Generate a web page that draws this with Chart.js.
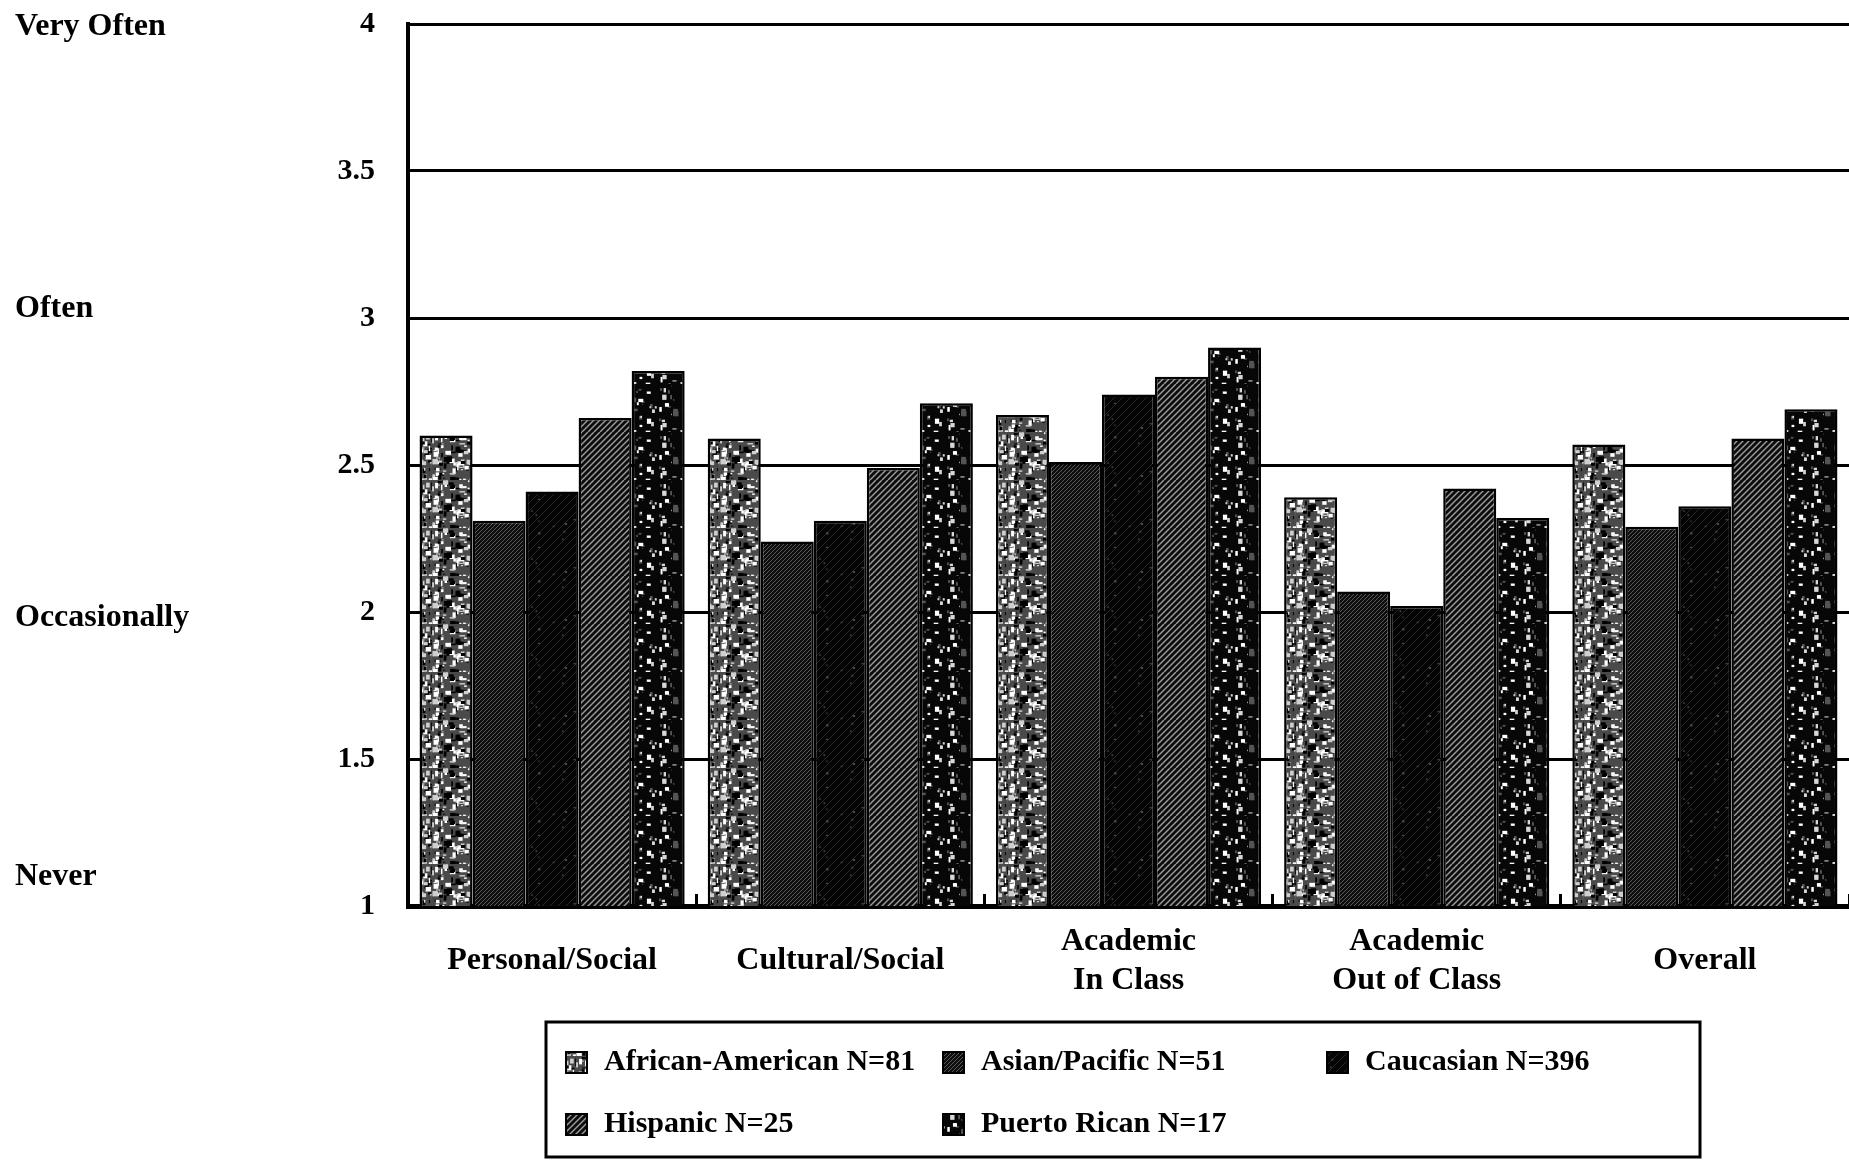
<!DOCTYPE html>
<html><head><meta charset="utf-8">
<script src="https://cdn.jsdelivr.net/npm/chart.js@4.4.1/dist/chart.umd.min.js"></script>
<style>html,body{margin:0;padding:0;background:#fff;}canvas{display:block;}</style>
</head><body>
<canvas id="c" width="1849" height="1167"></canvas>
<script>
// ---- data ----
const categories = ['Personal/Social', 'Cultural/Social', ['Academic', 'In Class'], ['Academic', 'Out of Class'], 'Overall'];
const seriesNames = ['African-American N=81', 'Asian/Pacific N=51', 'Caucasian N=396', 'Hispanic N=25', 'Puerto Rican N=17'];
const africanAmerican = [2.60, 2.59, 2.67, 2.39, 2.57];
const asianPacific    = [2.31, 2.24, 2.51, 2.07, 2.29];
const caucasian       = [2.41, 2.31, 2.74, 2.02, 2.36];
const hispanic        = [2.66, 2.49, 2.80, 2.42, 2.59];
const puertoRican     = [2.82, 2.71, 2.90, 2.32, 2.69];
const yTickLabels = ['1', '1.5', '2', '2.5', '3', '3.5', '4'];
const scaleWords = ['Never', 'Occasionally', 'Often', 'Very Often'];
const scaleWordValues = [1.10, 1.98, 3.03, 3.99];

// ---- textures ----
function rng(seed) {
  return function () {
    seed = (seed + 0x6D2B79F5) | 0;
    let t = Math.imul(seed ^ (seed >>> 15), 1 | seed);
    t = (t + Math.imul(t ^ (t >>> 7), 61 | t)) ^ t;
    return ((t ^ (t >>> 14)) >>> 0) / 4294967296;
  };
}
function hatch(g, s, sp, color, w) {
  g.strokeStyle = color; g.lineWidth = w;
  for (let k = -s; k <= 2 * s; k += sp) {
    g.beginPath(); g.moveTo(k, s); g.lineTo(k + s, 0); g.stroke();
  }
}
function speckle(g, s, r, n, colors, maxSz) {
  for (let i = 0; i < n; i++) {
    g.fillStyle = colors[Math.floor(r() * colors.length)];
    const x = r() * s, y = r() * s, w = 1 + r() * maxSz, h = 1 + r() * maxSz;
    g.fillRect(x, y, w, h);
  }
}
function makePattern(kind) {
  const s = 48;
  const cv = document.createElement('canvas'); cv.width = s; cv.height = s;
  const g = cv.getContext('2d');
  if (kind === 0) {
    const r = rng(11);
    g.fillStyle = '#4a4a4a'; g.fillRect(0, 0, s, s);
    speckle(g, s, r, 120, ['#ffffff', '#000000', '#d0d0d0', '#000000'], 5);
  } else if (kind === 1) {
    g.fillStyle = '#0e0e0e'; g.fillRect(0, 0, s, s);
    hatch(g, s, 4, '#5a5a5a', 1);
  } else if (kind === 2) {
    const r = rng(23);
    g.fillStyle = '#050505'; g.fillRect(0, 0, s, s);
    hatch(g, s, 8, '#262626', 1);
    speckle(g, s, r, 10, ['#4a4a4a'], 1.5);
  } else if (kind === 3) {
    g.fillStyle = '#0c0c0c'; g.fillRect(0, 0, s, s);
    hatch(g, s, 6, '#9c9c9c', 1.4);
  } else {
    const r = rng(37);
    g.fillStyle = '#070707'; g.fillRect(0, 0, s, s);
    speckle(g, s, r, 40, ['#ffffff', '#d8d8d8', '#555555'], 4.5);
  }
  return g.createPattern(cv, 'repeat');
}

const seriesValues = [africanAmerican, asianPacific, caucasian, hispanic, puertoRican];
const FONT = '"Liberation Serif", "Times New Roman", serif';
Chart.defaults.font.family = FONT;
Chart.defaults.font.weight = 'bold';
Chart.defaults.color = '#000';

const boxLegend = {
  id: 'boxLegend',
  afterDraw(chart) {
    const c = chart.ctx;
    c.save();
    c.strokeStyle = '#000';
    c.lineWidth = 3;
    c.strokeRect(546, 1022, 1154, 135);
    const colX = [566, 943, 1327], rowY = [1062, 1124];
    c.font = 'bold 30px ' + FONT;
    c.textBaseline = 'middle';
    c.textAlign = 'left';
    chart.data.datasets.forEach((ds, i) => {
      const x = colX[i % 3], y = rowY[Math.floor(i / 3)];
      c.fillStyle = ds.backgroundColor;
      c.fillRect(x, y - 10, 21, 21);
      c.lineWidth = 2;
      c.strokeRect(x, y - 10, 21, 21);
      c.fillStyle = '#000';
      c.fillText(ds.label, x + 38, y);
    });
    c.restore();
  }
};

new Chart(document.getElementById('c'), {
  type: 'bar',
  data: {
    labels: categories,
    datasets: seriesNames.map((name, i) => ({
      label: name,
      data: seriesValues[i],
      backgroundColor: makePattern(i),
      borderColor: '#000',
      borderWidth: 2.5,
      borderSkipped: false,
      categoryPercentage: 0.92,
      barPercentage: 1.0
    }))
  },
  options: {
    responsive: false,
    animation: false,
    devicePixelRatio: 1,
    layout: { padding: { left: 15, right: 0, top: 24, bottom: 151 } },
    plugins: { legend: { display: false }, tooltip: { enabled: false } },
    scales: {
      x: {
        offset: true,
        grid: { display: true, offset: true, drawOnChartArea: false, drawTicks: true, tickLength: -12, lineWidth: 3, color: '#000' },
        border: { display: true, width: 5, color: '#000' },
        ticks: { font: { size: 32, weight: 'bold' }, color: '#000', padding: 48, maxRotation: 0, autoSkip: false, crossAlign: 'center' },
        afterFit: s => { s.height = 110; }
      },
      y: {
        position: 'left', weight: 1,
        min: 1, max: 4,
        ticks: { stepSize: 0.5, callback: (v, i) => yTickLabels[i], padding: 33, font: { size: 30, weight: 'bold' }, color: '#000' },
        grid: { color: '#000', lineWidth: 3, drawTicks: false },
        border: { display: true, width: 4, color: '#000' },
        afterFit: s => { s.width = 110; s.paddingTop = 0; s.paddingBottom = 0; }
      },
      y2: {
        type: 'linear', position: 'left', weight: 10,
        min: 1, max: 4,
        afterBuildTicks: s => { s.ticks = scaleWordValues.map(v => ({ value: v })); },
        ticks: { callback: (v, i) => scaleWords[i], crossAlign: 'far', autoSkip: false, padding: 0, font: { size: 32, weight: 'bold' }, color: '#000' },
        grid: { display: false, drawTicks: false },
        border: { display: false },
        afterFit: s => { s.width = 283; s.paddingTop = 0; s.paddingBottom = 0; }
      }
    }
  },
  plugins: [boxLegend]
});
</script>
</body></html>
